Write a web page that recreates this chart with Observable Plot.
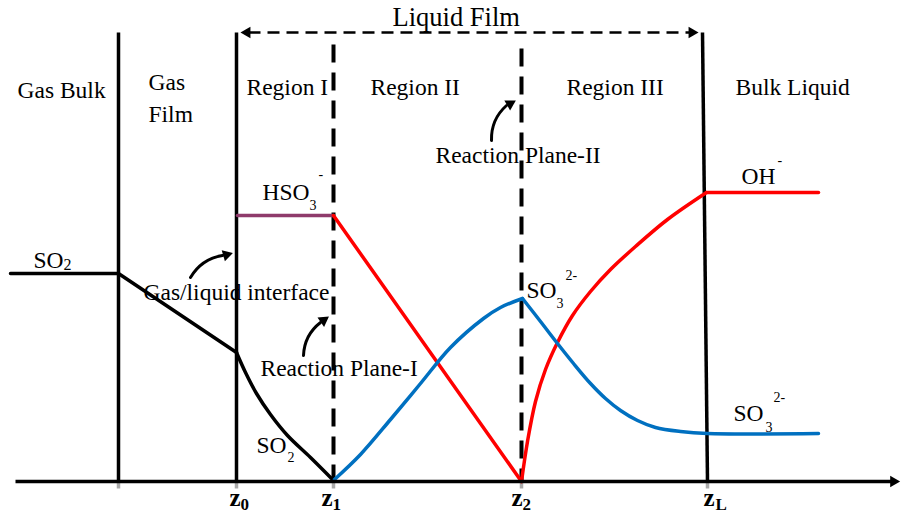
<!DOCTYPE html>
<html>
<head>
<meta charset="utf-8">
<script src="https://cdn.jsdelivr.net/npm/d3@7"></script>
<script src="https://cdn.jsdelivr.net/npm/@observablehq/plot@0.6"></script>
<style>
  html, body { margin: 0; padding: 0; background: #fff; }
</style>
</head>
<body>
<div id="chart"></div>
<script>
// ---- Data (distance x, concentration y above the axis) ----
// Boundaries (solid) : gas bulk / gas film, gas-liquid interface z0, liquid film edge zL
const walls = [
  {x1: 118, x2: 118, top: 449, bottom: 0},
  {x1: 236, x2: 236, top: 449, bottom: 0},
  {x1: 702, x2: 707, top: 449, bottom: 0}
];
// Reaction planes (dashed) z1, z2
const planes = [
  {x: 333, top: 437, bottom: 0},
  {x: 521, top: 433, bottom: 0}
];
const stubs = [118, 236, 333, 521, 707];
const axisLine = [{x1: 15, x2: 893, y: 0}];
const filmSpan = [{x1: 248, x2: 690, y: 449}];

// Concentration profiles
const so2Gas = [{x: 10, y: 208}, {x: 118, y: 208}, {x: 236, y: 129}];
const so2Liquid = [{x: 236, y: 129}, {x: 245, y: 109}, {x: 256, y: 88}, {x: 270, y: 67}, {x: 287, y: 46}, {x: 310, y: 24}, {x: 333, y: 1}];
const hso3Flat = [{x: 237, y: 266}, {x: 333, y: 266}];
const hso3Drop = [{x: 333, y: 266}, {x: 521, y: 0}];
const ohRise = [{x: 521, y: 0}, {x: 527, y: 40}, {x: 535, y: 80}, {x: 545, y: 112}, {x: 557, y: 139}, {x: 572, y: 166}, {x: 590, y: 190}, {x: 610, y: 212}, {x: 635, y: 235}, {x: 667, y: 262}, {x: 706, y: 289}];
const ohFlat = [{x: 706, y: 289}, {x: 818, y: 289}];
const so3Rise = [{x: 334, y: 2}, {x: 360, y: 27}, {x: 390, y: 62}, {x: 420, y: 98}, {x: 450, y: 134}, {x: 483, y: 163}, {x: 500, y: 174}, {x: 522, y: 183}];
const so3Fall = [{x: 522, y: 183}, {x: 540, y: 160}, {x: 557, y: 138}, {x: 573, y: 118}, {x: 590, y: 98}, {x: 605, y: 83}, {x: 620, y: 71}, {x: 637, y: 61}, {x: 655, y: 54}, {x: 680, y: 50}, {x: 707, y: 48}, {x: 818, y: 48}];

// Curved pointer arrows and their heads
const pointers = [
  {x1: 190, y1: 204, x2: 222, y2: 226},
  {x1: 303, y1: 126, x2: 320, y2: 159},
  {x1: 491, y1: 341, x2: 506, y2: 376}
];
const pointerHeads = [
  {x: 226, y: 226.6, angle: 74},
  {x: 323, y: 161.1, angle: 55},
  {x: 509.6, y: 377.7, angle: 60}
];
const spanHeads = [
  {x: 246.6, y: 449, angle: -90},
  {x: 691.4, y: 449, angle: 90},
  {x: 893, y: 0, angle: 90}
];

// Text
const titleLabel = [{text: "Liquid Film", x: 392, y: 456}];
const labels = [
  {text: "Gas Bulk", x: 17, y: 384},
  {text: "Gas", x: 148, y: 392},
  {text: "Film", x: 148, y: 360},
  {text: "Region I", x: 246, y: 387},
  {text: "Region II", x: 370, y: 387},
  {text: "Region III", x: 566, y: 387},
  {text: "Bulk Liquid", x: 735, y: 387},
  {text: "Gas/liquid interface", x: 143, y: 182},
  {text: "Reaction Plane-I", x: 260, y: 106},
  {text: "Reaction Plane-II", x: 435, y: 319}
];
const chemMain = [
  {text: "SO", x: 33, y: 214},
  {text: "HSO", x: 262, y: 282},
  {text: "OH", x: 741, y: 298},
  {text: "SO", x: 526, y: 184},
  {text: "SO", x: 733, y: 61},
  {text: "SO", x: 256, y: 29}
];
const chemSub = [
  {text: "2", x: 63, y: 212, size: 16},
  {text: "3", x: 309, y: 272, size: 14},
  {text: "3", x: 556, y: 174, size: 14},
  {text: "3", x: 765, y: 50, size: 14},
  {text: "2", x: 287, y: 20, size: 14}
];
const chemSup = [
  {text: "-", x: 318, y: 303},
  {text: "-", x: 777, y: 317},
  {text: "2-", x: 565, y: 202},
  {text: "2-", x: 773, y: 80}
];
const zMain = [
  {text: "z", x: 229}, {text: "z", x: 321}, {text: "z", x: 511}, {text: "z", x: 703}
];
const zSub = [
  {text: "0", x: 240}, {text: "1", x: 332}, {text: "2", x: 522}, {text: "L", x: 715}
];

const serif = "'Liberation Serif', 'Times New Roman', serif";
const red = "#ff0000", blue = "#0070c0", purple = "#8f3b6b";

const chart = Plot.plot({
  width: 902,
  height: 515,
  margin: 0,
  x: {domain: [0, 902], axis: null},
  y: {domain: [-34, 481], axis: null},
  style: {fontFamily: serif, background: "#fff"},
  marks: [
    // grey stubs under the axis
    Plot.link(stubs, {x1: d => d, x2: d => d, y1: 0, y2: -7, stroke: "#aaa", strokeWidth: 3.5}),
    // solid boundaries
    Plot.link(walls, {x1: "x1", x2: "x2", y1: "top", y2: "bottom", stroke: "black", strokeWidth: 3.5}),
    // dashed reaction planes
    Plot.link(planes, {x1: "x", x2: "x", y1: "top", y2: "bottom", stroke: "black", strokeWidth: 4, strokeDasharray: "18,10"}),
    // liquid film span
    Plot.link(filmSpan, {x1: "x1", x2: "x2", y1: "y", y2: "y", stroke: "black", strokeWidth: 2.7, strokeDasharray: "12,7"}),
    // profiles
    Plot.line(so2Gas, {x: "x", y: "y", stroke: "black", strokeWidth: 3.5}),
    Plot.line(so2Liquid, {x: "x", y: "y", stroke: "black", strokeWidth: 3.5, curve: "catmull-rom"}),
    Plot.line(hso3Flat, {x: "x", y: "y", stroke: purple, strokeWidth: 3.5}),
    Plot.line(hso3Drop, {x: "x", y: "y", stroke: red, strokeWidth: 3.5}),
    Plot.line(ohRise, {x: "x", y: "y", stroke: red, strokeWidth: 3.5, curve: "catmull-rom"}),
    Plot.line(ohFlat, {x: "x", y: "y", stroke: red, strokeWidth: 3.5}),
    Plot.line(so3Rise, {x: "x", y: "y", stroke: blue, strokeWidth: 3.5, curve: "catmull-rom"}),
    Plot.line(so3Fall, {x: "x", y: "y", stroke: blue, strokeWidth: 3.5, curve: "catmull-rom"}),
    // x axis line
    Plot.link(axisLine, {x1: "x1", x2: "x2", y1: "y", y2: "y", stroke: "black", strokeWidth: 3.5}),
    // arrow heads
    Plot.dot(spanHeads, {x: "x", y: "y", rotate: "angle", symbol: "triangle2", r: 5.5, fill: "black", stroke: "none"}),
    // curved pointers
    Plot.arrow(pointers, {x1: "x1", y1: "y1", x2: "x2", y2: "y2", bend: 25, headLength: 0, stroke: "black", strokeWidth: 3}),
    Plot.dot(pointerHeads, {x: "x", y: "y", rotate: "angle", symbol: "triangle2", r: 5.5, fill: "black", stroke: "none"}),
    // text
    Plot.text(titleLabel, {x: "x", y: "y", text: "text", textAnchor: "start", lineAnchor: "bottom", fontSize: 26.5, fill: "black"}),
    Plot.text(labels, {x: "x", y: "y", text: "text", textAnchor: "start", lineAnchor: "bottom", fontSize: 23.5, fill: "black"}),
    Plot.text(chemMain, {x: "x", y: "y", text: "text", textAnchor: "start", lineAnchor: "bottom", fontSize: 23.5, fill: "black"}),
    Plot.text(chemSub.filter(d => d.size === 16), {x: "x", y: "y", text: "text", textAnchor: "start", lineAnchor: "bottom", fontSize: 16, fill: "black"}),
    Plot.text(chemSub.filter(d => d.size === 14), {x: "x", y: "y", text: "text", textAnchor: "start", lineAnchor: "bottom", fontSize: 14, fill: "black"}),
    Plot.text(chemSup, {x: "x", y: "y", text: "text", textAnchor: "start", lineAnchor: "bottom", fontSize: 14, fill: "black"}),
    Plot.text(zMain, {x: "x", y: -24, text: "text", textAnchor: "start", lineAnchor: "bottom", fontSize: 25, fontWeight: "bold", fill: "black"}),
    Plot.text(zSub, {x: "x", y: -28, text: "text", textAnchor: "start", lineAnchor: "bottom", fontSize: 17, fontWeight: "bold", fill: "black"})
  ]
});
document.getElementById("chart").appendChild(chart);
</script>
</body>
</html>
